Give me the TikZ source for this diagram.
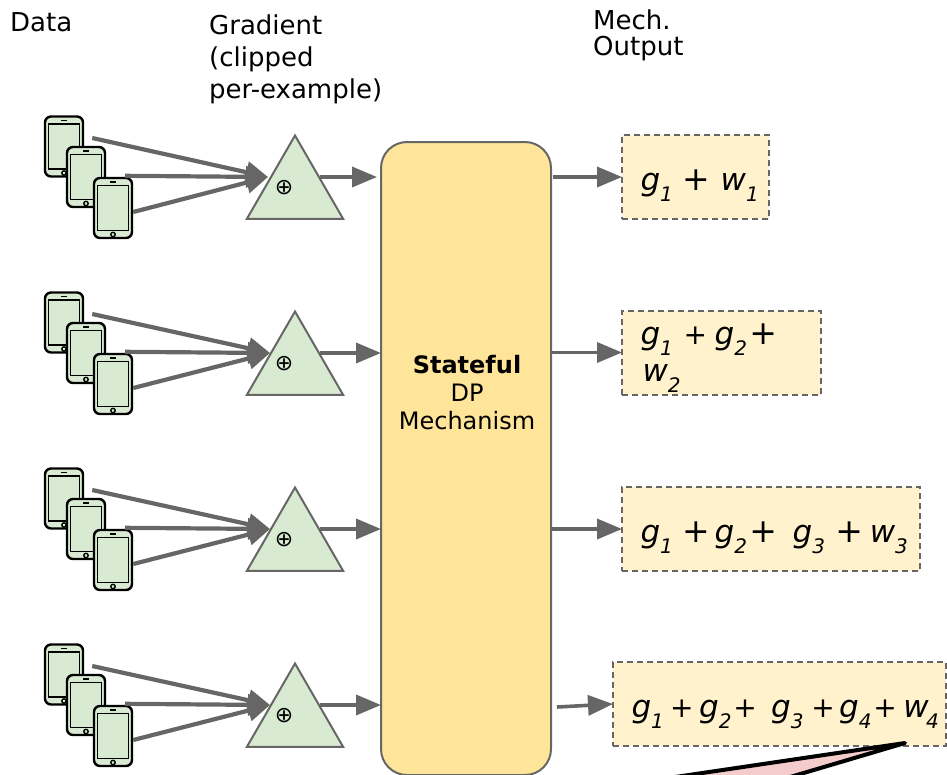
\documentclass[tikz,border=0pt]{standalone}
\usepackage{fontspec}
\setmainfont{DejaVu Sans}
\usepackage{xcolor}
\usetikzlibrary{arrows.meta, positioning, calc, shapes.geometric}
\definecolor{gradgreen}{HTML}{D9EAD3}
\definecolor{mechgold}{HTML}{FFE599}
\definecolor{outcream}{HTML}{FFF2CC}
\definecolor{connrgray}{HTML}{666666}
\definecolor{notepink}{HTML}{F4CCCC}
\newcommand{\sbs}[1]{\raisebox{-11pt}[0pt][0pt]{\fontsize{20pt}{20pt}\selectfont #1}}
\newcommand{\pa}[3]{\kern#1pt{\fontsize{#2pt}{#2pt}\selectfont +}\kern#3pt}
\tikzset{
  labeltext/.style={font=\fontsize{26pt}{32pt}\selectfont, inner sep=0pt, align=left},
  phone/.style={draw=black, line width=2.4pt, fill=gradgreen, rounded corners=6pt,
    minimum width=38pt, minimum height=60pt, inner sep=0pt,
    path picture={
      \draw[sharp corners, black, line width=1.8pt]
        ([xshift=-15.5pt,yshift=22.5pt]path picture bounding box.center) rectangle
        ([xshift=15.5pt,yshift=-22.5pt]path picture bounding box.center);
      \draw[sharp corners, black, line width=1.6pt]
        ([xshift=-3pt,yshift=26pt]path picture bounding box.center) --
        ([xshift=3pt,yshift=26pt]path picture bounding box.center);
      \draw[sharp corners, black, line width=1.4pt]
        ([yshift=-26.5pt]path picture bounding box.center) circle (2.2pt);
    }},
  gradtri/.style={regular polygon, regular polygon sides=3, draw=connrgray, line width=2pt,
    fill=gradgreen, minimum size=111pt, inner sep=0pt},
  mechbox/.style={draw=connrgray, line width=2pt, fill=mechgold, rounded corners=26pt,
    minimum width=170pt, minimum height=633pt, inner sep=0pt},
  outbox/.style={draw=connrgray, dash pattern=on 6pt off 4pt, line width=2pt, fill=outcream,
    anchor=west, outer sep=0pt, minimum height=84pt, inner xsep=18.5pt, inner ysep=0pt, align=left,
    text height=26pt, text depth=0pt,
    font=\fontsize{31pt}{37pt}\selectfont\itshape},
  inarrow/.style={draw=connrgray, line width=4.2pt, -{Triangle[length=22pt,width=21pt]}},
  outarrow/.style={draw=connrgray, line width=3.6pt, -{Triangle[length=25pt,width=20pt]}}
}

\begin{document}
\begin{tikzpicture}[x=1pt, y=-1pt]

  \useasboundingbox (0,0) rectangle (947,774);
  \clip (0,0) rectangle (947,774);

  % --- column headings ---
  \node[labeltext, anchor=west] (datalabel) at (10,22) {Data};
  \node[labeltext, anchor=west] (gradlabel) at (209,59) {Gradient\\(clipped\\per-example)};
  \node[labeltext, anchor=west, font=\fontsize{26pt}{26pt}\selectfont] (mechlabel) at (593,35) {Mech.\\Output};

  % --- mechanism block ---
  \node[mechbox] (mech) at (466,458.5) {};
  \node[labeltext, align=center, font=\fontsize{24pt}{28pt}\selectfont] (mechtext) at (467,393)
    {\textbf{Stateful}\\DP\\Mechanism};

  % --- output boxes ---
  \node[outbox, minimum width=147pt, text width=110pt] (out1) at (622,177)
    {g\sbs{1}\pa{9.3}{33}{10.8}w\sbs{1}};
  \node[outbox, minimum width=199pt, text width=162pt, text height=9pt, text depth=26pt] (out2) at (622,352.5)
    {g\sbs{1}\pa{10.8}{28}{7.4}g\sbs{2}\pa{2.3}{33}{0}\\\hspace*{2pt}w\sbs{2}};
  \node[outbox, minimum width=298pt, text width=261pt] (out3) at (622,529)
    {g\sbs{1}\pa{9.3}{33}{4.8}g\sbs{2}\pa{2.3}{33}{15.7}g\sbs{3}\pa{10.3}{33}{6.7}w\sbs{3}};
  \node[outbox, minimum width=333pt, text width=296pt] (out4) at (613,704)
    {g\sbs{1}\pa{6.3}{28}{5.4}g\sbs{2}\pa{1.8}{28}{14.4}g\sbs{3}\pa{7.8}{28}{4.4}g\sbs{4}\pa{1.8}{28}{6.4}w\kern-2.5pt\sbs{4}};

  % --- one row of devices per round ---
  \foreach \n/\off/\tipx/\mechx in {1/0/268/377, 2/176/270/381, 3/352/270/381, 4/528/270/381}
  {
    \node[phone] (pa\n) at (64,146.5+\off) {};
    \node[phone] (pb\n) at (86,177+\off) {};
    \node[phone] (pc\n) at (113,208+\off) {};
    \node[gradtri] (tri\n) at (295,191+\off) {};
    \node[inner sep=0pt, font=\fontsize{22pt}{22pt}\selectfont] (sum\n) at (284,188+\off) {⊕};
    \coordinate (tip\n) at (\tipx,177+\off);
    \coordinate (mechin\n) at (\mechx,177+\off);
    \coordinate (triout\n) at (320,177+\off);

    \draw[inarrow] ([xshift=8pt,yshift=8.5pt]pa\n.east) -- (tip\n);
    \draw[inarrow] ([xshift=12pt,yshift=1pt]pc\n.north) -- (tip\n);
    \draw[inarrow] ([yshift=-4pt]pc\n.east) -- (tip\n);
    \draw[outarrow] (triout\n) -- (mechin\n);
  }

  % --- mechanism outputs ---
  \coordinate (mechout1) at (553,177);
  \coordinate (mechout2) at (551,352.5);
  \coordinate (mechout3) at (551,529);
  \coordinate (mechout4) at (557,707);
  \foreach \n in {1,2,3,4}
    \draw[outarrow] (mechout\n) -- (out\n.west);

  % --- callout wedge, runs off the bottom ---
  \fill[notepink, draw=black, line width=4pt, line join=round]
    (905,743) -- (655,780) -- (780,780) -- cycle;

\end{tikzpicture}
\end{document}
